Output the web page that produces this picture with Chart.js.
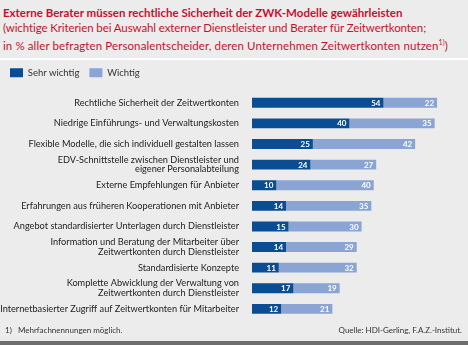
<!DOCTYPE html>
<html>
<head>
<meta charset="utf-8">
<script src="https://cdn.jsdelivr.net/npm/chart.js@4/dist/chart.umd.min.js"></script>
<style>
  html, body { margin: 0; padding: 0; }
  body { width: 468px; height: 345px; background: #ececec; position: relative; overflow: hidden; font-family: Lato, sans-serif; }
  #head { position: absolute; left: 3px; top: 5px; color: #c8102e; font-size: 11.5px; line-height: 15px; white-space: nowrap; }
  #head b { font-weight: 700; }
  #sep { position: absolute; left: 0; top: 58px; width: 468px; height: 2px; background: #fff; }
  #chartBox { position: absolute; left: 0; top: 58px; width: 468px; height: 271px; }
  .foot { position: absolute; top: 325px; font-size: 8px; color: #333; }
  #bottom { position: absolute; left: 0; top: 341px; width: 468px; height: 4px; background: #6e6e6e; }
</style>
</head>
<body>
<div id="head">
  <b>Externe Berater müssen rechtliche Sicherheit der ZWK-Modelle gewährleisten</b><br>
  <span style="letter-spacing:-0.1px">(wichtige Kriterien bei Auswahl externer Dienstleister und Berater für Zeitwertkonten;</span><br>
  <span style="letter-spacing:0.1px">in % aller befragten Personalentscheider, deren Unternehmen Zeitwertkonten nutzen<sup style="font-size:7px">1)</sup>)</span>
</div>
<div id="sep"></div>
<div id="chartBox"><canvas id="zwk"></canvas></div>
<div class="foot" style="left:5px">1)&nbsp;&nbsp; Mehrfachnennungen möglich.</div>
<div class="foot" style="right:6px">Quelle: HDI-Gerling, F.A.Z.-Institut.</div>
<div id="bottom"></div>

<script>
const labels = [
  "Rechtliche Sicherheit der Zeitwertkonten",
  "Niedrige Einführungs- und Verwaltungskosten",
  "Flexible Modelle, die sich individuell gestalten lassen",
  ["EDV-Schnittstelle zwischen Dienstleister und", "eigener Personalabteilung"],
  "Externe Empfehlungen für Anbieter",
  "Erfahrungen aus früheren Kooperationen mit Anbieter",
  "Angebot standardisierter Unterlagen durch Dienstleister",
  ["Information und Beratung der Mitarbeiter über", "Zeitwertkonten durch Dienstleister"],
  "Standardisierte Konzepte",
  ["Komplette Abwicklung der Verwaltung von", "Zeitwertkonten durch Dienstleister"],
  "Internetbasierter Zugriff auf Zeitwertkonten für Mitarbeiter",
];
const sehrWichtig = [54, 40, 25, 24, 10, 14, 15, 14, 11, 17, 12];
const wichtig = [22, 35, 42, 27, 40, 35, 30, 29, 32, 19, 21];

// white value labels at the right end of each segment
const valueLabels = {
  id: "valueLabels",
  afterDatasetsDraw(chart) {
    const ctx = chart.ctx;
    ctx.save();
    ctx.fillStyle = "#ffffff";
    ctx.font = "bold 8px Lato";
    ctx.textAlign = "right";
    ctx.textBaseline = "middle";
    chart.data.datasets.forEach((ds, i) => {
      chart.getDatasetMeta(i).data.forEach((bar, j) => {
        ctx.fillText(ds.data[j], bar.x - 3, bar.y + 0.5);
      });
    });
    ctx.restore();
  },
};

// a bit more room between legend and bars
const legendGap = {
  id: "legendGap",
  beforeInit(chart) {
    const fit = chart.legend.fit;
    chart.legend.fit = function () {
      fit.call(this);
      this.height += 5;
    };
  },
};

new Chart(document.getElementById("zwk"), {
  type: "bar",
  data: {
    labels: labels,
    datasets: [
      {
        label: "Sehr wichtig",
        data: sehrWichtig,
        backgroundColor: "#0b4d92",
        borderWidth: 0,
        barPercentage: 1,
        categoryPercentage: 0.48,
      },
      {
        label: "Wichtig",
        data: wichtig,
        backgroundColor: "#8aa4d4",
        borderWidth: 0,
        barPercentage: 1,
        categoryPercentage: 0.48,
      },
    ],
  },
  options: {
    indexAxis: "y",
    responsive: true,
    maintainAspectRatio: false,
    animation: false,
    layout: { padding: { left: 0, right: 9, top: 0, bottom: 0 } },
    plugins: {
      tooltip: { enabled: false },
      legend: {
        position: "top",
        align: "start",
        labels: {
          boxWidth: 13,
          boxHeight: 9,
          color: "#333",
          font: { family: "Lato", size: 9.5 },
          padding: 10,
        },
      },
    },
    scales: {
      x: {
        stacked: true,
        min: 0,
        max: 85,
        display: false,
      },
      y: {
        stacked: true,
        grid: { display: false },
        border: { display: false },
        afterFit: (scale) => {
          scale.width = 252;
        },
        ticks: {
          autoSkip: false,
          color: "#222",
          font: { family: "Lato", size: 9.2, lineHeight: 1.05 },
          padding: 5,
        },
      },
    },
  },
  plugins: [valueLabels, legendGap],
});
</script>
</body>
</html>
